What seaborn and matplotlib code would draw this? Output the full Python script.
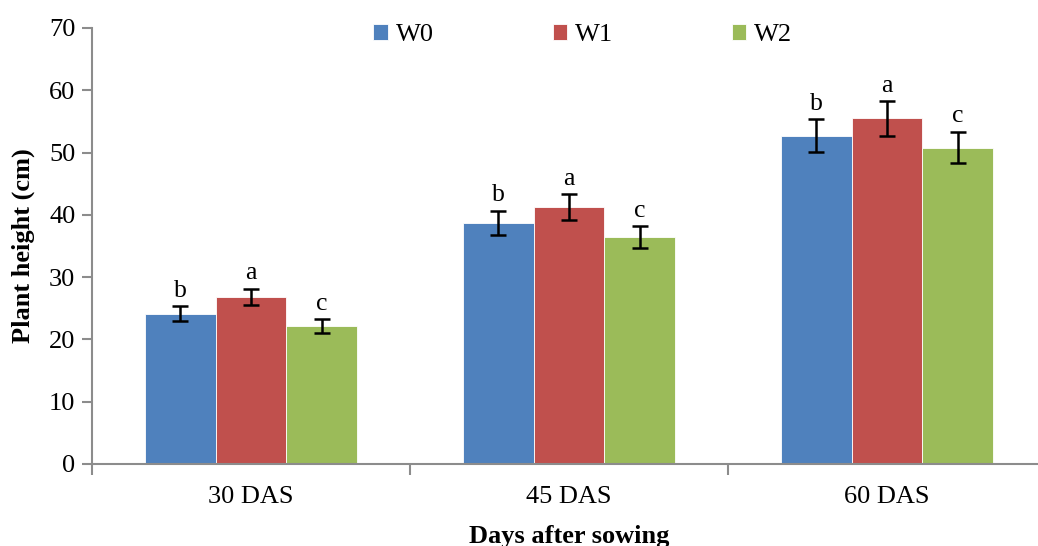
import matplotlib
matplotlib.use("Agg")
import matplotlib.pyplot as plt
import seaborn as sns
import pandas as pd
import numpy as np

categories = ["30 DAS", "45 DAS", "60 DAS"]
treatments = ["W0", "W1", "W2"]
w0 = [24.1, 38.7, 52.7]
w1 = [26.8, 41.3, 55.5]
w2 = [22.1, 36.4, 50.8]
w0_err = [1.2, 1.95, 2.65]
w1_err = [1.35, 2.05, 2.8]
w2_err = [1.1, 1.8, 2.55]
w0_letters = ["b", "b", "b"]
w1_letters = ["a", "a", "a"]
w2_letters = ["c", "c", "c"]
colors = ["#4F81BD", "#C0504D", "#9BBB59"]

values = {"W0": w0, "W1": w1, "W2": w2}
errors = {"W0": w0_err, "W1": w1_err, "W2": w2_err}
letters = {"W0": w0_letters, "W1": w1_letters, "W2": w2_letters}

rows = []
for t in treatments:
    for i, c in enumerate(categories):
        rows.append({"Days": c, "Treatment": t, "Height": values[t][i]})
df = pd.DataFrame(rows)

sns.set_theme(style="white")
plt.rcParams["font.family"] = ["Liberation Serif", "DejaVu Serif"]
plt.rcParams["text.color"] = "black"
plt.rcParams["axes.labelcolor"] = "black"
plt.rcParams["xtick.labelcolor"] = "black"
plt.rcParams["ytick.labelcolor"] = "black"

fig = plt.figure(figsize=(10.38, 5.46), dpi=100)
ax = fig.add_axes([92 / 1038, 82 / 546, 954 / 1038, 436 / 546])

sns.barplot(data=df, x="Days", y="Height", hue="Treatment", order=categories,
            hue_order=treatments, palette=colors, width=0.667, gap=0,
            errorbar=None, saturation=1, edgecolor="white", linewidth=0.6, ax=ax)

# error bars and letters, using bar positions from the library
for cont, t in zip(ax.containers, treatments):
    for i, bar in enumerate(cont):
        xc = bar.get_x() + bar.get_width() / 2
        h = bar.get_height()
        e = errors[t][i]
        ax.errorbar(xc, h, yerr=e, fmt="none", ecolor="black", elinewidth=1.8,
                    capsize=6, capthick=1.8, zorder=5)
        ax.text(xc, h + e + 0.7, letters[t][i], ha="center", va="bottom",
                fontsize=18.5, color="black")

ax.set_ylim(0, 70)
ax.set_xlim(-0.5, 2.5)
ax.set_yticks(range(0, 71, 10))
ax.set_xticks([0, 1, 2])
ax.set_xticklabels(categories)
ax.set_xticks([-0.5, 0.5, 1.5, 2.5], minor=True)

for s in ["top", "right"]:
    ax.spines[s].set_visible(False)
for s in ["left", "bottom"]:
    ax.spines[s].set_color("#8c8c8c")
    ax.spines[s].set_linewidth(1.5)

ax.tick_params(axis="y", which="major", direction="out", length=7, width=1.5,
               color="#8c8c8c", labelsize=19, pad=5, left=True, labelcolor="black")
ax.tick_params(axis="x", which="major", length=0, labelsize=19, pad=16,
               labelcolor="black")
ax.tick_params(axis="x", which="minor", direction="out", length=8, width=1.5,
               color="#8c8c8c", bottom=True)

ax.set_ylabel("Plant height (cm)", fontsize=19, fontweight="bold", labelpad=10,
              color="black")
ax.set_xlabel("Days after sowing", fontsize=19, fontweight="bold", labelpad=12,
              color="black")

handles, labels = ax.get_legend_handles_labels()
if ax.get_legend() is not None:
    ax.get_legend().remove()
leg = fig.legend(handles, labels, loc="center", bbox_to_anchor=(583 / 1038, 1 - 35 / 546),
                 ncol=3, frameon=False, fontsize=19, handlelength=0.55, handleheight=0.55,
                 handletextpad=0.3, columnspacing=4.5)
for txt in leg.get_texts():
    txt.set_color("black")

fig.savefig("out.png", dpi=100)
